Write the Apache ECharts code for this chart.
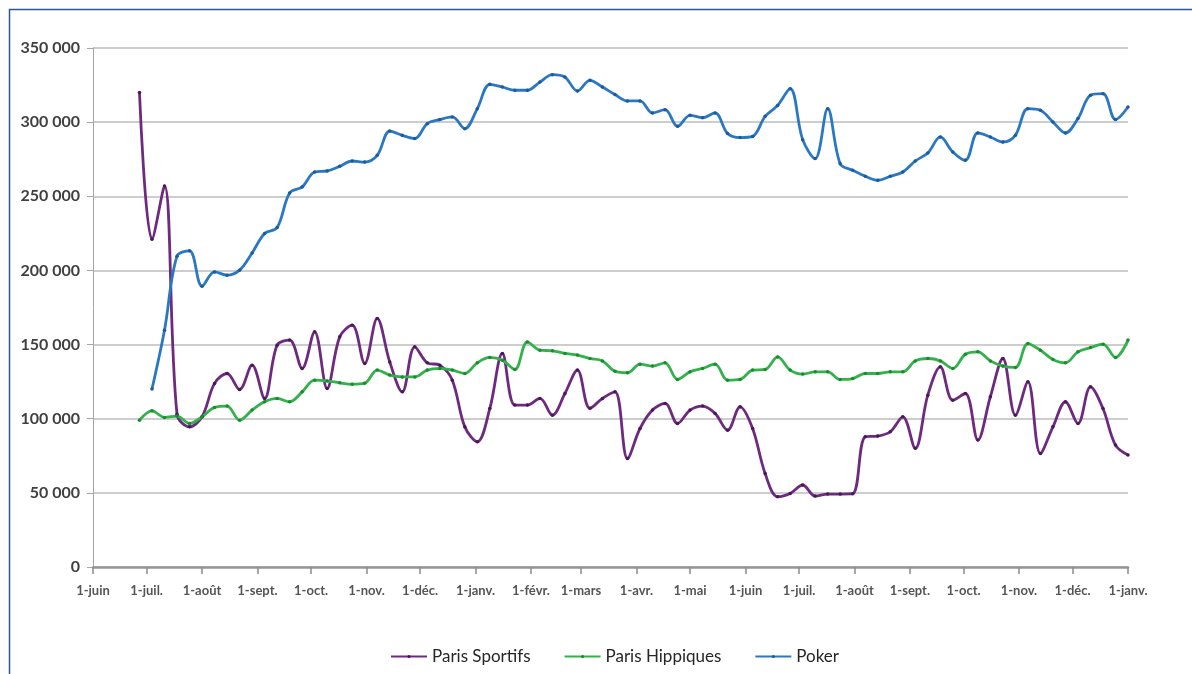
<!DOCTYPE html>
<html>
<head>
<meta charset="utf-8">
<script src="https://cdn.jsdelivr.net/npm/echarts@6/dist/echarts.min.js"></script>
<style>
html,body{margin:0;padding:0;background:#fff;}
#chart{width:1192px;height:674px;}
</style>
</head>
<body>
<div id="chart"></div>
<script>
// Weekly dates (Sundays)
const weekDates = [
'2010-06-27','2010-07-04','2010-07-11','2010-07-18','2010-07-25','2010-08-01','2010-08-08','2010-08-15','2010-08-22','2010-08-29',
'2010-09-05','2010-09-12','2010-09-19','2010-09-26','2010-10-03','2010-10-10','2010-10-17','2010-10-24','2010-10-31','2010-11-07',
'2010-11-14','2010-11-21','2010-11-28','2010-12-05','2010-12-12','2010-12-19','2010-12-26','2011-01-02','2011-01-09','2011-01-16',
'2011-01-23','2011-01-30','2011-02-06','2011-02-13','2011-02-20','2011-02-27','2011-03-06','2011-03-13','2011-03-20','2011-03-27',
'2011-04-03','2011-04-10','2011-04-17','2011-04-24','2011-05-01','2011-05-08','2011-05-15','2011-05-22','2011-05-29','2011-06-05',
'2011-06-12','2011-06-19','2011-06-26','2011-07-03','2011-07-10','2011-07-17','2011-07-24','2011-07-31','2011-08-07','2011-08-14',
'2011-08-21','2011-08-28','2011-09-04','2011-09-11','2011-09-18','2011-09-25','2011-10-02','2011-10-09','2011-10-16','2011-10-23',
'2011-10-30','2011-11-06','2011-11-13','2011-11-20','2011-11-27','2011-12-04','2011-12-11','2011-12-18','2011-12-25','2012-01-01'
];

const parisSportifs = [
320000,221000,257000,103000,94500,101300,123800,130500,119700,136100,
113700,149600,153000,133900,158600,120400,155200,163100,137300,167600,
138300,118100,148500,137700,136100,126000,94500,84400,106900,144000,
109200,109200,113700,102400,117000,132800,107000,113700,118100,73200,
93400,105800,110300,96800,105800,108500,103600,92300,108000,93400,
63100,47400,49600,55300,47800,49200,49200,49400,87800,88300,
91200,101300,80000,115900,135000,112500,117000,85600,114800,140600,
102400,124900,76600,94500,111400,96800,121500,106900,82200,75500
];

const parisHippiques = [
99000,105300,100900,101800,96800,101300,107600,108500,99000,105800,
111400,113700,111400,118100,126000,125500,124200,123300,124000,132800,
129400,128200,128200,132800,133900,132800,130500,137700,141300,139500,
133200,151800,146200,145800,144000,142900,140600,139000,132000,131000,
136800,135500,137700,126500,131600,133900,136800,126000,126500,132800,
133200,141700,132800,130100,131600,131600,126500,127100,130500,130500,
131600,131600,139000,140600,139000,133900,143500,145100,139000,135500,
134600,150700,146200,140000,137700,145100,148000,150300,141300,153000
];

const poker = [
null,120000,159700,209600,213200,189400,199000,196800,200200,211800,
224900,228900,252200,256300,266400,267100,270200,273800,273100,277600,
294000,291100,288900,299000,301700,303500,295600,309100,325500,323700,
321500,321500,327000,332000,330400,321000,328200,323700,318600,314300,
314300,306200,308400,297200,304600,303000,306200,292300,289600,290400,
303900,311300,322600,288200,275400,309100,272000,267500,263500,260800,
263500,266400,273800,279200,290000,279900,274300,292700,290000,286600,
291100,309100,308000,300100,292700,302400,318100,319200,301700,310200
];

const monthTicks = [
'2010-06-01','2010-07-01','2010-08-01','2010-09-01','2010-10-01','2010-11-01','2010-12-01',
'2011-01-01','2011-02-01','2011-03-01','2011-04-01','2011-05-01','2011-06-01','2011-07-01',
'2011-08-01','2011-09-01','2011-10-01','2011-11-01','2011-12-01','2012-01-01'
];
const monthLabels = [
'1-juin','1-juil.','1-août','1-sept.','1-oct.','1-nov.','1-déc.',
'1-janv.','1-févr.','1-mars','1-avr.','1-mai','1-juin','1-juil.',
'1-août','1-sept.','1-oct.','1-nov.','1-déc.','1-janv.'
];
const seriesNames = ['Paris Sportifs','Paris Hippiques','Poker'];

const DAY = 86400000;
function toDay(s){ const p = s.split('-').map(Number); return Math.round(Date.UTC(p[0], p[1]-1, p[2]) / DAY); }
const tickDays = monthTicks.map(toDay);
const labelByDay = {};
tickDays.forEach((t,i)=>{ labelByDay[t] = monthLabels[i]; });

function pairs(vals){ return weekDates.map((d,i)=>[toDay(d), vals[i]]); }

const colors = ['#6E2A7F','#33B14A','#2A78C2'];
const markColors = ['#4A1858','#1C8A33','#1B5A9C'];

const chart = echarts.init(document.getElementById('chart'), null, {renderer:'canvas'});
const mk = (name, vals, idx) => ({
  name: name,
  type: 'line',
  data: pairs(vals),
  smooth: 0.35,
  connectNulls: false,
  showSymbol: true,
  symbol: 'circle',
  symbolSize: 3.5,
  lineStyle: { width: 2.8, color: colors[idx] },
  itemStyle: { color: markColors[idx], borderWidth: 0 },
  emphasis: { disabled: true },
  animation: false
});

chart.setOption({
  animation: false,
  backgroundColor: '#ffffff',
  textStyle: { fontFamily: 'Lato, "Liberation Sans", sans-serif' },
  graphic: [
    { type: 'polyline', shape: { points: [[9.5,674],[9.5,9.5],[1192,9.5]] }, style: { stroke: '#2E5597', lineWidth: 1.5, fill: null }, silent: true }
  ],
  grid: { left: 93, right: 64, top: 48, bottom: 107, outerBoundsMode: 'none', containLabel: false },
  legend: {
    data: seriesNames,
    left: 385, top: 643,
    itemWidth: 36, itemHeight: 4, itemGap: 33,
    textStyle: { fontSize: 17, color: '#262626', fontFamily: 'Lato, sans-serif' }
  },
  xAxis: {
    type: 'value',
    min: tickDays[0],
    max: tickDays[tickDays.length-1],
    axisLine: { show: true, onZero: false, lineStyle: { color: '#969696', width: 2.5 } },
    axisTick: { show: true, customValues: tickDays, length: 7, lineStyle: { color: '#8C8C8C', width: 1.5 } },
    axisLabel: {
      customValues: tickDays,
      formatter: function(v){ return labelByDay[v] !== undefined ? labelByDay[v] : ''; },
      fontSize: 13, fontWeight: 'bold', color: '#555555', margin: 17,
      hideOverlap: false
    },
    splitLine: { show: false }
  },
  yAxis: {
    type: 'value',
    min: 0, max: 350000, interval: 50000,
    axisLine: { show: true, lineStyle: { color: '#A6A6A6', width: 1 } },
    axisTick: { show: true, length: 6, lineStyle: { color: '#A6A6A6' } },
    axisLabel: {
      fontSize: 16, fontWeight: 'bold', color: '#404040', margin: 13,
      formatter: function(v){ return String(v).replace(/\B(?=(\d{3})+(?!\d))/g, ' '); }
    },
    splitLine: { show: true, lineStyle: { color: '#BDBDBD', width: 1.5 } }
  },
  series: [
    mk(seriesNames[0], parisSportifs, 0),
    mk(seriesNames[1], parisHippiques, 1),
    mk(seriesNames[2], poker, 2)
  ]
});
</script>
</body>
</html>
